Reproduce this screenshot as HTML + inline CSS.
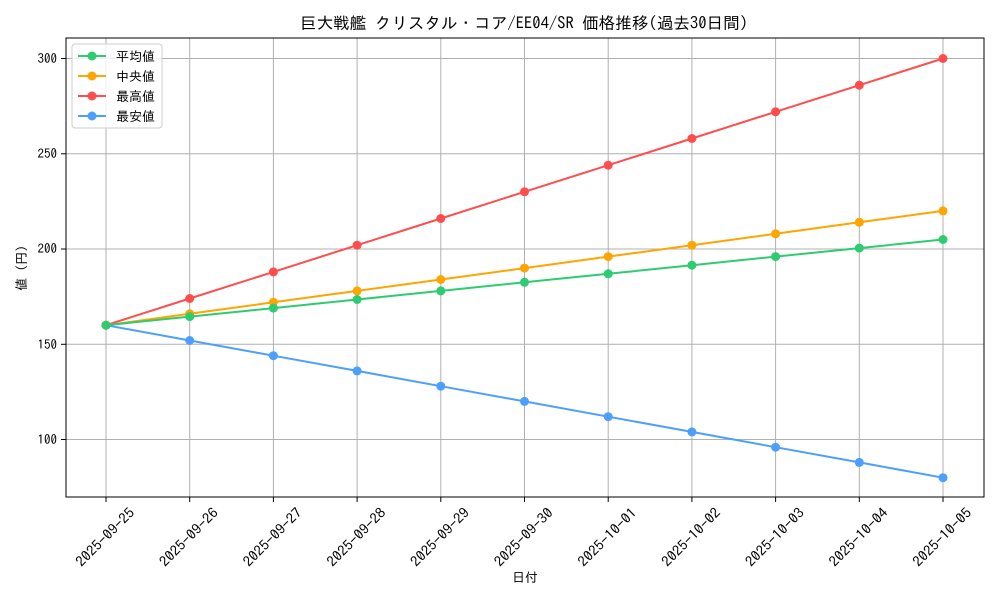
<!DOCTYPE html>
<html><head><meta charset="utf-8"><style>
html,body{margin:0;padding:0;background:#fff;}
svg text{font-family:"IPAGothic","Liberation Sans","Noto Sans CJK JP",sans-serif;fill:#000;}
</style></head><body>
<svg width="1000" height="600" viewBox="0 0 1000 600" xmlns="http://www.w3.org/2000/svg">
<rect width="1000" height="600" fill="#fff"/>
<text x="524" y="29" font-size="16.5" text-anchor="middle" textLength="448" lengthAdjust="spacingAndGlyphs">巨大戦艦 クリスタル・コア/EE04/SR 価格推移(過去30日間)</text>
<g stroke="#b0b0b0" stroke-width="1">
<line x1="106" y1="38" x2="106" y2="497"/><line x1="189.7" y1="38" x2="189.7" y2="497"/><line x1="273.4" y1="38" x2="273.4" y2="497"/><line x1="357.1" y1="38" x2="357.1" y2="497"/><line x1="440.8" y1="38" x2="440.8" y2="497"/><line x1="524.5" y1="38" x2="524.5" y2="497"/><line x1="608.2" y1="38" x2="608.2" y2="497"/><line x1="691.9" y1="38" x2="691.9" y2="497"/><line x1="775.6" y1="38" x2="775.6" y2="497"/><line x1="859.3" y1="38" x2="859.3" y2="497"/><line x1="943" y1="38" x2="943" y2="497"/>
<line x1="66" y1="58.5" x2="984" y2="58.5"/><line x1="66" y1="153.8" x2="984" y2="153.8"/><line x1="66" y1="249" x2="984" y2="249"/><line x1="66" y1="344.3" x2="984" y2="344.3"/><line x1="66" y1="439.5" x2="984" y2="439.5"/>
</g>
<rect x="66" y="38" width="918" height="459" fill="none" stroke="#000" stroke-width="1"/>
<g stroke="#000"><line x1="61" y1="58.5" x2="66" y2="58.5"/><line x1="61" y1="153.8" x2="66" y2="153.8"/><line x1="61" y1="249" x2="66" y2="249"/><line x1="61" y1="344.3" x2="66" y2="344.3"/><line x1="61" y1="439.5" x2="66" y2="439.5"/></g>
<g font-size="13" text-anchor="end"><text x="57" y="63">300</text><text x="57" y="158">250</text><text x="57" y="253">200</text><text x="57" y="349">150</text><text x="57" y="444">100</text></g>
<g font-size="14" text-anchor="middle" dominant-baseline="middle">
<text transform="translate(106,538) rotate(-45)" textLength="76" lengthAdjust="spacingAndGlyphs">2025-09-25</text>
<text transform="translate(189.7,538) rotate(-45)" textLength="76" lengthAdjust="spacingAndGlyphs">2025-09-26</text>
<text transform="translate(273.4,538) rotate(-45)" textLength="76" lengthAdjust="spacingAndGlyphs">2025-09-27</text>
<text transform="translate(357.1,538) rotate(-45)" textLength="76" lengthAdjust="spacingAndGlyphs">2025-09-28</text>
<text transform="translate(440.8,538) rotate(-45)" textLength="76" lengthAdjust="spacingAndGlyphs">2025-09-29</text>
<text transform="translate(524.5,538) rotate(-45)" textLength="76" lengthAdjust="spacingAndGlyphs">2025-09-30</text>
<text transform="translate(608.2,538) rotate(-45)" textLength="76" lengthAdjust="spacingAndGlyphs">2025-10-01</text>
<text transform="translate(691.9,538) rotate(-45)" textLength="76" lengthAdjust="spacingAndGlyphs">2025-10-02</text>
<text transform="translate(775.6,538) rotate(-45)" textLength="76" lengthAdjust="spacingAndGlyphs">2025-10-03</text>
<text transform="translate(859.3,538) rotate(-45)" textLength="76" lengthAdjust="spacingAndGlyphs">2025-10-04</text>
<text transform="translate(943,538) rotate(-45)" textLength="76" lengthAdjust="spacingAndGlyphs">2025-10-05</text>
</g>
<g stroke="#000"><line x1="106" y1="497" x2="106" y2="502"/><line x1="189.7" y1="497" x2="189.7" y2="502"/><line x1="273.4" y1="497" x2="273.4" y2="502"/><line x1="357.1" y1="497" x2="357.1" y2="502"/><line x1="440.8" y1="497" x2="440.8" y2="502"/><line x1="524.5" y1="497" x2="524.5" y2="502"/><line x1="608.2" y1="497" x2="608.2" y2="502"/><line x1="691.9" y1="497" x2="691.9" y2="502"/><line x1="775.6" y1="497" x2="775.6" y2="502"/><line x1="859.3" y1="497" x2="859.3" y2="502"/><line x1="943" y1="497" x2="943" y2="502"/></g>
<text x="525" y="582" font-size="13" text-anchor="middle">日付</text>
<text transform="translate(26,268) rotate(-90)" font-size="13" text-anchor="middle">値 (円)</text>
<g fill="none" stroke-width="2">
<polyline stroke="#4d9fff" points="106,325.2 189.7,340.5 273.4,355.7 357.1,370.9 440.8,386.2 524.5,401.4 608.2,416.7 691.9,431.9 775.6,447.2 859.3,462.4 943,477.7"/>
<polyline stroke="#ff4d4d" points="106,325.2 189.7,298.5 273.4,271.9 357.1,245.2 440.8,218.5 524.5,191.8 608.2,165.2 691.9,138.5 775.6,111.8 859.3,85.2 943,58.5"/>
<polyline stroke="#ffa500" points="106,325.2 189.7,313.8 273.4,302.3 357.1,290.9 440.8,279.5 524.5,268.1 608.2,256.6 691.9,245.2 775.6,233.8 859.3,222.3 943,210.9"/>
<polyline stroke="#2ecc71" points="106,325.2 189.7,316.6 273.4,308.1 357.1,299.5 440.8,290.9 524.5,282.3 608.2,273.8 691.9,265.2 775.6,256.6 859.3,248.1 943,239.5"/>
</g>
<g fill="#4d9fff"><circle cx="106" cy="325.2" r="4.5"/><circle cx="189.7" cy="340.5" r="4.5"/><circle cx="273.4" cy="355.7" r="4.5"/><circle cx="357.1" cy="370.9" r="4.5"/><circle cx="440.8" cy="386.2" r="4.5"/><circle cx="524.5" cy="401.4" r="4.5"/><circle cx="608.2" cy="416.7" r="4.5"/><circle cx="691.9" cy="431.9" r="4.5"/><circle cx="775.6" cy="447.2" r="4.5"/><circle cx="859.3" cy="462.4" r="4.5"/><circle cx="943" cy="477.7" r="4.5"/></g>
<g fill="#ff4d4d"><circle cx="106" cy="325.2" r="4.5"/><circle cx="189.7" cy="298.5" r="4.5"/><circle cx="273.4" cy="271.9" r="4.5"/><circle cx="357.1" cy="245.2" r="4.5"/><circle cx="440.8" cy="218.5" r="4.5"/><circle cx="524.5" cy="191.8" r="4.5"/><circle cx="608.2" cy="165.2" r="4.5"/><circle cx="691.9" cy="138.5" r="4.5"/><circle cx="775.6" cy="111.8" r="4.5"/><circle cx="859.3" cy="85.2" r="4.5"/><circle cx="943" cy="58.5" r="4.5"/></g>
<g fill="#ffa500"><circle cx="106" cy="325.2" r="4.5"/><circle cx="189.7" cy="313.8" r="4.5"/><circle cx="273.4" cy="302.3" r="4.5"/><circle cx="357.1" cy="290.9" r="4.5"/><circle cx="440.8" cy="279.5" r="4.5"/><circle cx="524.5" cy="268.1" r="4.5"/><circle cx="608.2" cy="256.6" r="4.5"/><circle cx="691.9" cy="245.2" r="4.5"/><circle cx="775.6" cy="233.8" r="4.5"/><circle cx="859.3" cy="222.3" r="4.5"/><circle cx="943" cy="210.9" r="4.5"/></g>
<g fill="#2ecc71"><circle cx="106" cy="325.2" r="4.5"/><circle cx="189.7" cy="316.6" r="4.5"/><circle cx="273.4" cy="308.1" r="4.5"/><circle cx="357.1" cy="299.5" r="4.5"/><circle cx="440.8" cy="290.9" r="4.5"/><circle cx="524.5" cy="282.3" r="4.5"/><circle cx="608.2" cy="273.8" r="4.5"/><circle cx="691.9" cy="265.2" r="4.5"/><circle cx="775.6" cy="256.6" r="4.5"/><circle cx="859.3" cy="248.1" r="4.5"/><circle cx="943" cy="239.5" r="4.5"/></g>
<rect x="72" y="44" width="90" height="84" rx="3" fill="#fff" fill-opacity="0.8" stroke="#ccc"/>
<g stroke-width="2">
<line x1="78" y1="56" x2="106" y2="56" stroke="#2ecc71"/><circle cx="92" cy="56" r="4.5" fill="#2ecc71"/>
<line x1="78" y1="76" x2="106" y2="76" stroke="#ffa500"/><circle cx="92" cy="76" r="4.5" fill="#ffa500"/>
<line x1="78" y1="96" x2="106" y2="96" stroke="#ff4d4d"/><circle cx="92" cy="96" r="4.5" fill="#ff4d4d"/>
<line x1="78" y1="116" x2="106" y2="116" stroke="#4d9fff"/><circle cx="92" cy="116" r="4.5" fill="#4d9fff"/>
</g>
<g font-size="13"><text x="116" y="61">平均値</text><text x="116" y="81">中央値</text><text x="116" y="101">最高値</text><text x="116" y="121">最安値</text></g>
</svg>
</body></html>
